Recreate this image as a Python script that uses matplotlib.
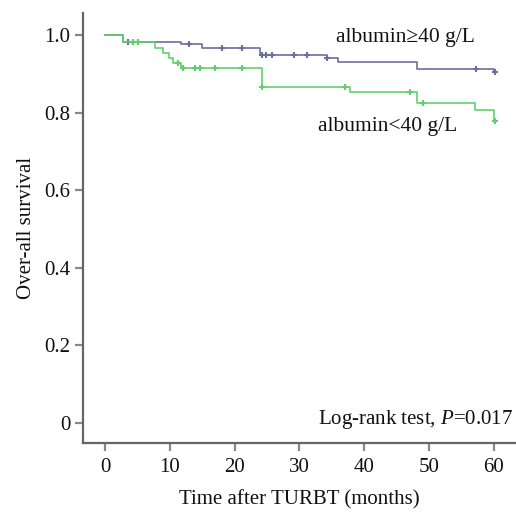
import matplotlib
matplotlib.use("Agg")
import matplotlib.pyplot as plt

plt.rcParams['font.family'] = ['Liberation Serif', 'DejaVu Serif']
plt.rcParams['mathtext.fontset'] = 'custom'
plt.rcParams['mathtext.rm'] = 'Liberation Serif'
plt.rcParams['mathtext.it'] = 'Liberation Serif:italic'

# albumin >= 40 g/L (step curve)
hi_t = [0, 2.8, 11.8, 14.9, 23.9, 34.2, 35.9, 48.1, 60.0, 60.2]
hi_s = [1.0, 0.983, 0.976, 0.966, 0.950, 0.940, 0.931, 0.912, 0.904, 0.904]
hi_cens_t = [3.5, 4.3, 5.1, 13.0, 18.0, 21.1, 24.2, 24.9, 25.7, 29.1, 31.1, 34.2, 57.3, 60.1]
hi_cens_s = [0.983, 0.983, 0.983, 0.976, 0.966, 0.966, 0.950, 0.950, 0.950, 0.950, 0.950, 0.940, 0.912, 0.904]

# albumin < 40 g/L
lo_t = [0, 2.8, 7.7, 9.0, 9.8, 10.5, 11.8, 24.2, 37.8, 48.1, 57.1, 60.0, 60.2]
lo_s = [1.0, 0.983, 0.966, 0.953, 0.940, 0.927, 0.914, 0.867, 0.854, 0.826, 0.808, 0.779, 0.779]
lo_cens_t = [4.3, 5.1, 11.2, 12.0, 13.9, 14.7, 17.0, 21.1, 24.2, 37.0, 47.0, 49.1, 60.1]
lo_cens_s = [0.983, 0.983, 0.927, 0.914, 0.914, 0.914, 0.914, 0.914, 0.867, 0.867, 0.854, 0.826, 0.779]

x_ticks = [0, 10, 20, 30, 40, 50, 60]
y_ticks = [0, 0.2, 0.4, 0.6, 0.8, 1.0]
y_labels = ["0", "0.2", "0.4", "0.6", "0.8", "1.0"]

blue = "#6b6f9e"
green = "#62cf6e"

fig = plt.figure(figsize=(5.16, 5.12), dpi=100)
ax = fig.add_axes([83/516, 69/512, 1 - 83/516, (443-13)/512])

ax.step(hi_t, hi_s, where='post', color=blue, lw=1.2)
ax.plot(hi_cens_t, hi_cens_s, ls='none', marker='+', ms=4, mew=1.5, color=blue)
ax.step(lo_t, lo_s, where='post', color=green, lw=1.2)
ax.plot(lo_cens_t, lo_cens_s, ls='none', marker='+', ms=4, mew=1.5, color=green)

ax.set_xlim(-3.39, 63.4)
ax.set_ylim(-0.0515, 1.057)
ax.set_xticks(x_ticks)
ax.set_yticks(y_ticks)
ax.set_yticklabels(y_labels)
for s in ['top', 'right']:
    ax.spines[s].set_visible(False)
for s in ['left', 'bottom']:
    ax.spines[s].set_color('#666666')
    ax.spines[s].set_linewidth(1.6)
ax.tick_params(axis='both', direction='out', length=6, width=1.6, color='#888888',
               labelsize=15, labelcolor='#111111')
ax.tick_params(axis='x', pad=5)
ax.tick_params(axis='y', pad=3)

ax.set_xlabel("Time after TURBT (months)", fontsize=15, labelpad=9, color='#111111')
ax.set_ylabel("Over-all survival", fontsize=15, labelpad=6, color='#111111')

ax.text(35.6, 0.995, "albumin≥40 g/L", fontsize=15.5, va='center', ha='left', color='#111111')
ax.text(32.9, 0.765, "albumin<40 g/L", fontsize=15.5, va='center', ha='left', color='#111111')
ax.text(32.9, 0.01, "Log-rank test, $P$=0.017", fontsize=15, va='center', ha='left', color='#111111')

fig.savefig("out.png", dpi=100)
